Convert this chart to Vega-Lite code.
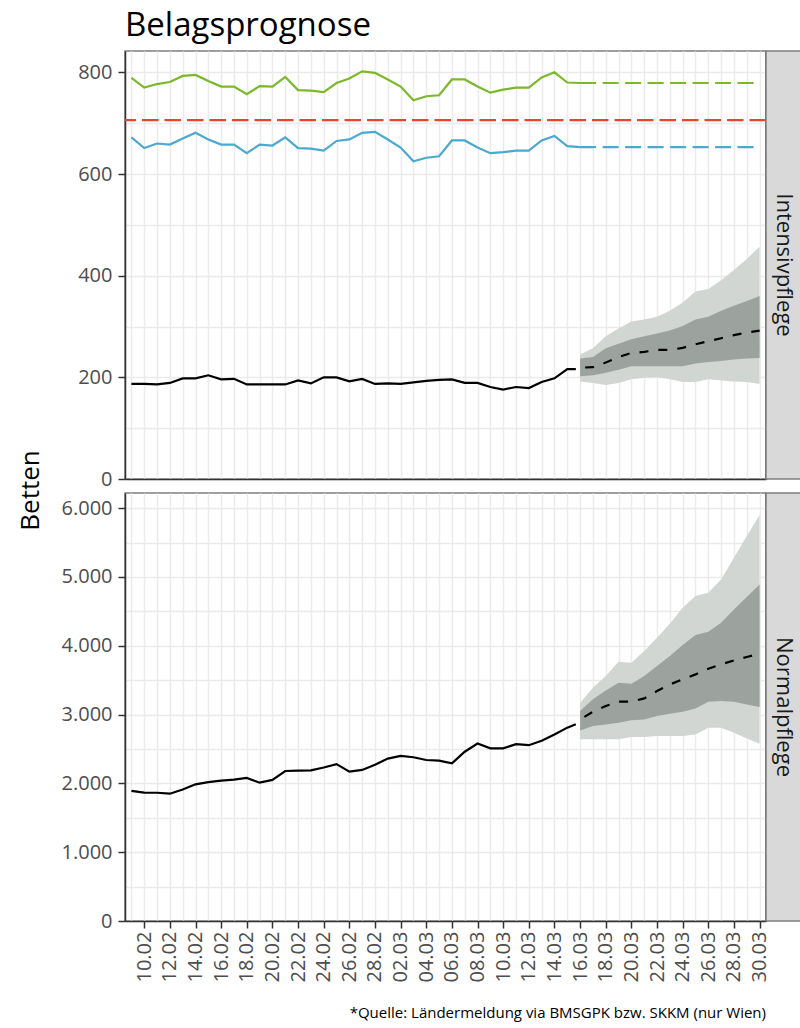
{
  "$schema": "https://vega.github.io/schema/vega-lite/v6.json",
  "background": "white",
  "padding": {"left": 16, "top": 10, "right": 0, "bottom": 4},
  "config": {
    "font": "Open Sans",
    "view": {"stroke": "#7F7F7F", "strokeWidth": 1.5},
    "axis": {
      "labelFont": "Open Sans", "labelFontSize": 20, "labelColor": "#4D4D4D",
      "tickColor": "#333333", "tickWidth": 1.5, "tickSize": 7,
      "domainColor": "#333333", "domainWidth": 1.5,
      "gridColor": "#EBEBEB", "gridWidth": 1.5,
      "titleFont": "Open Sans", "titleFontWeight": "normal", "titleColor": "#000000"
    }
  },
  "title": {"text": "Belagsprognose", "anchor": "start", "frame": "group", "fontSize": 33, "fontWeight": "normal", "color": "#000000", "offset": 7},
  "datasets": {
    "icu_hist": [
      {"date": "2021-02-09T00:00:00", "value": 187},
      {"date": "2021-02-10T00:00:00", "value": 187},
      {"date": "2021-02-11T00:00:00", "value": 186},
      {"date": "2021-02-12T00:00:00", "value": 189},
      {"date": "2021-02-13T00:00:00", "value": 198},
      {"date": "2021-02-14T00:00:00", "value": 198},
      {"date": "2021-02-15T00:00:00", "value": 204},
      {"date": "2021-02-16T00:00:00", "value": 196},
      {"date": "2021-02-17T00:00:00", "value": 197},
      {"date": "2021-02-18T00:00:00", "value": 186},
      {"date": "2021-02-19T00:00:00", "value": 186},
      {"date": "2021-02-20T00:00:00", "value": 186},
      {"date": "2021-02-21T00:00:00", "value": 186},
      {"date": "2021-02-22T00:00:00", "value": 194},
      {"date": "2021-02-23T00:00:00", "value": 188},
      {"date": "2021-02-24T00:00:00", "value": 200},
      {"date": "2021-02-25T00:00:00", "value": 200},
      {"date": "2021-02-26T00:00:00", "value": 192},
      {"date": "2021-02-27T00:00:00", "value": 197},
      {"date": "2021-02-28T00:00:00", "value": 187},
      {"date": "2021-03-01T00:00:00", "value": 188},
      {"date": "2021-03-02T00:00:00", "value": 187},
      {"date": "2021-03-03T00:00:00", "value": 190},
      {"date": "2021-03-04T00:00:00", "value": 193},
      {"date": "2021-03-05T00:00:00", "value": 195},
      {"date": "2021-03-06T00:00:00", "value": 196},
      {"date": "2021-03-07T00:00:00", "value": 189},
      {"date": "2021-03-08T00:00:00", "value": 189},
      {"date": "2021-03-09T00:00:00", "value": 181},
      {"date": "2021-03-10T00:00:00", "value": 176},
      {"date": "2021-03-11T00:00:00", "value": 181},
      {"date": "2021-03-12T00:00:00", "value": 179},
      {"date": "2021-03-13T00:00:00", "value": 191},
      {"date": "2021-03-14T00:00:00", "value": 198},
      {"date": "2021-03-15T00:00:00", "value": 216},
      {"date": "2021-03-15T16:00:00", "value": 216}
    ],
    "norm_hist": [
      {"date": "2021-02-09T00:00:00", "value": 1890},
      {"date": "2021-02-10T00:00:00", "value": 1866},
      {"date": "2021-02-11T00:00:00", "value": 1864},
      {"date": "2021-02-12T00:00:00", "value": 1850},
      {"date": "2021-02-13T00:00:00", "value": 1910},
      {"date": "2021-02-14T00:00:00", "value": 1986},
      {"date": "2021-02-15T00:00:00", "value": 2018},
      {"date": "2021-02-16T00:00:00", "value": 2040},
      {"date": "2021-02-17T00:00:00", "value": 2055},
      {"date": "2021-02-18T00:00:00", "value": 2080},
      {"date": "2021-02-19T00:00:00", "value": 2010},
      {"date": "2021-02-20T00:00:00", "value": 2050},
      {"date": "2021-02-21T00:00:00", "value": 2180},
      {"date": "2021-02-22T00:00:00", "value": 2185},
      {"date": "2021-02-23T00:00:00", "value": 2190},
      {"date": "2021-02-24T00:00:00", "value": 2230},
      {"date": "2021-02-25T00:00:00", "value": 2280},
      {"date": "2021-02-26T00:00:00", "value": 2170},
      {"date": "2021-02-27T00:00:00", "value": 2195},
      {"date": "2021-02-28T00:00:00", "value": 2270},
      {"date": "2021-03-01T00:00:00", "value": 2360},
      {"date": "2021-03-02T00:00:00", "value": 2400},
      {"date": "2021-03-03T00:00:00", "value": 2380},
      {"date": "2021-03-04T00:00:00", "value": 2340},
      {"date": "2021-03-05T00:00:00", "value": 2330},
      {"date": "2021-03-06T00:00:00", "value": 2290},
      {"date": "2021-03-07T00:00:00", "value": 2460},
      {"date": "2021-03-08T00:00:00", "value": 2580},
      {"date": "2021-03-09T00:00:00", "value": 2510},
      {"date": "2021-03-10T00:00:00", "value": 2510},
      {"date": "2021-03-11T00:00:00", "value": 2570},
      {"date": "2021-03-12T00:00:00", "value": 2555},
      {"date": "2021-03-13T00:00:00", "value": 2620},
      {"date": "2021-03-14T00:00:00", "value": 2710},
      {"date": "2021-03-15T00:00:00", "value": 2810},
      {"date": "2021-03-15T16:00:00", "value": 2858}
    ],
    "cap": [
      {"date": "2021-02-09T00:00:00", "series": "gesamt", "phase": "Ist", "value": 789},
      {"date": "2021-02-10T00:00:00", "series": "gesamt", "phase": "Ist", "value": 770},
      {"date": "2021-02-11T00:00:00", "series": "gesamt", "phase": "Ist", "value": 777},
      {"date": "2021-02-12T00:00:00", "series": "gesamt", "phase": "Ist", "value": 781},
      {"date": "2021-02-13T00:00:00", "series": "gesamt", "phase": "Ist", "value": 793},
      {"date": "2021-02-14T00:00:00", "series": "gesamt", "phase": "Ist", "value": 795},
      {"date": "2021-02-15T00:00:00", "series": "gesamt", "phase": "Ist", "value": 783},
      {"date": "2021-02-16T00:00:00", "series": "gesamt", "phase": "Ist", "value": 772},
      {"date": "2021-02-17T00:00:00", "series": "gesamt", "phase": "Ist", "value": 772},
      {"date": "2021-02-18T00:00:00", "series": "gesamt", "phase": "Ist", "value": 757},
      {"date": "2021-02-19T00:00:00", "series": "gesamt", "phase": "Ist", "value": 773},
      {"date": "2021-02-20T00:00:00", "series": "gesamt", "phase": "Ist", "value": 772},
      {"date": "2021-02-21T00:00:00", "series": "gesamt", "phase": "Ist", "value": 791},
      {"date": "2021-02-22T00:00:00", "series": "gesamt", "phase": "Ist", "value": 765},
      {"date": "2021-02-23T00:00:00", "series": "gesamt", "phase": "Ist", "value": 764},
      {"date": "2021-02-24T00:00:00", "series": "gesamt", "phase": "Ist", "value": 761},
      {"date": "2021-02-25T00:00:00", "series": "gesamt", "phase": "Ist", "value": 779},
      {"date": "2021-02-26T00:00:00", "series": "gesamt", "phase": "Ist", "value": 788},
      {"date": "2021-02-27T00:00:00", "series": "gesamt", "phase": "Ist", "value": 802},
      {"date": "2021-02-28T00:00:00", "series": "gesamt", "phase": "Ist", "value": 799},
      {"date": "2021-03-01T00:00:00", "series": "gesamt", "phase": "Ist", "value": 786},
      {"date": "2021-03-02T00:00:00", "series": "gesamt", "phase": "Ist", "value": 772},
      {"date": "2021-03-03T00:00:00", "series": "gesamt", "phase": "Ist", "value": 745},
      {"date": "2021-03-04T00:00:00", "series": "gesamt", "phase": "Ist", "value": 753},
      {"date": "2021-03-05T00:00:00", "series": "gesamt", "phase": "Ist", "value": 755},
      {"date": "2021-03-06T00:00:00", "series": "gesamt", "phase": "Ist", "value": 786},
      {"date": "2021-03-07T00:00:00", "series": "gesamt", "phase": "Ist", "value": 786},
      {"date": "2021-03-08T00:00:00", "series": "gesamt", "phase": "Ist", "value": 772},
      {"date": "2021-03-09T00:00:00", "series": "gesamt", "phase": "Ist", "value": 760},
      {"date": "2021-03-10T00:00:00", "series": "gesamt", "phase": "Ist", "value": 766},
      {"date": "2021-03-11T00:00:00", "series": "gesamt", "phase": "Ist", "value": 770},
      {"date": "2021-03-12T00:00:00", "series": "gesamt", "phase": "Ist", "value": 770},
      {"date": "2021-03-13T00:00:00", "series": "gesamt", "phase": "Ist", "value": 790},
      {"date": "2021-03-14T00:00:00", "series": "gesamt", "phase": "Ist", "value": 800},
      {"date": "2021-03-15T00:00:00", "series": "gesamt", "phase": "Ist", "value": 780},
      {"date": "2021-03-16T00:00:00", "series": "gesamt", "phase": "Ist", "value": 779},
      {"date": "2021-03-16T00:00:00", "series": "gesamt", "phase": "Prog", "value": 779},
      {"date": "2021-03-30T00:00:00", "series": "gesamt", "phase": "Prog", "value": 779},
      {"date": "2021-02-09T00:00:00", "series": "covid", "phase": "Ist", "value": 672},
      {"date": "2021-02-10T00:00:00", "series": "covid", "phase": "Ist", "value": 651},
      {"date": "2021-02-11T00:00:00", "series": "covid", "phase": "Ist", "value": 660},
      {"date": "2021-02-12T00:00:00", "series": "covid", "phase": "Ist", "value": 658},
      {"date": "2021-02-13T00:00:00", "series": "covid", "phase": "Ist", "value": 670},
      {"date": "2021-02-14T00:00:00", "series": "covid", "phase": "Ist", "value": 681},
      {"date": "2021-02-15T00:00:00", "series": "covid", "phase": "Ist", "value": 668},
      {"date": "2021-02-16T00:00:00", "series": "covid", "phase": "Ist", "value": 658},
      {"date": "2021-02-17T00:00:00", "series": "covid", "phase": "Ist", "value": 658},
      {"date": "2021-02-18T00:00:00", "series": "covid", "phase": "Ist", "value": 641},
      {"date": "2021-02-19T00:00:00", "series": "covid", "phase": "Ist", "value": 658},
      {"date": "2021-02-20T00:00:00", "series": "covid", "phase": "Ist", "value": 656},
      {"date": "2021-02-21T00:00:00", "series": "covid", "phase": "Ist", "value": 672},
      {"date": "2021-02-22T00:00:00", "series": "covid", "phase": "Ist", "value": 651},
      {"date": "2021-02-23T00:00:00", "series": "covid", "phase": "Ist", "value": 650},
      {"date": "2021-02-24T00:00:00", "series": "covid", "phase": "Ist", "value": 646},
      {"date": "2021-02-25T00:00:00", "series": "covid", "phase": "Ist", "value": 665},
      {"date": "2021-02-26T00:00:00", "series": "covid", "phase": "Ist", "value": 668},
      {"date": "2021-02-27T00:00:00", "series": "covid", "phase": "Ist", "value": 681},
      {"date": "2021-02-28T00:00:00", "series": "covid", "phase": "Ist", "value": 683},
      {"date": "2021-03-01T00:00:00", "series": "covid", "phase": "Ist", "value": 668},
      {"date": "2021-03-02T00:00:00", "series": "covid", "phase": "Ist", "value": 652},
      {"date": "2021-03-03T00:00:00", "series": "covid", "phase": "Ist", "value": 625},
      {"date": "2021-03-04T00:00:00", "series": "covid", "phase": "Ist", "value": 632},
      {"date": "2021-03-05T00:00:00", "series": "covid", "phase": "Ist", "value": 635},
      {"date": "2021-03-06T00:00:00", "series": "covid", "phase": "Ist", "value": 666},
      {"date": "2021-03-07T00:00:00", "series": "covid", "phase": "Ist", "value": 666},
      {"date": "2021-03-08T00:00:00", "series": "covid", "phase": "Ist", "value": 652},
      {"date": "2021-03-09T00:00:00", "series": "covid", "phase": "Ist", "value": 641},
      {"date": "2021-03-10T00:00:00", "series": "covid", "phase": "Ist", "value": 643},
      {"date": "2021-03-11T00:00:00", "series": "covid", "phase": "Ist", "value": 646},
      {"date": "2021-03-12T00:00:00", "series": "covid", "phase": "Ist", "value": 646},
      {"date": "2021-03-13T00:00:00", "series": "covid", "phase": "Ist", "value": 666},
      {"date": "2021-03-14T00:00:00", "series": "covid", "phase": "Ist", "value": 675},
      {"date": "2021-03-15T00:00:00", "series": "covid", "phase": "Ist", "value": 655},
      {"date": "2021-03-16T00:00:00", "series": "covid", "phase": "Ist", "value": 653},
      {"date": "2021-03-16T00:00:00", "series": "covid", "phase": "Prog", "value": 653},
      {"date": "2021-03-30T00:00:00", "series": "covid", "phase": "Prog", "value": 653}
    ],
    "icu_ref": [{"value": 706}],
    "icu_fc": [
      {"date": "2021-03-16T00:00:00", "lo95": 192, "lo50": 202, "med": 219, "hi50": 237, "hi95": 245},
      {"date": "2021-03-17T00:00:00", "lo95": 189, "lo50": 204, "med": 220, "hi50": 240, "hi95": 257},
      {"date": "2021-03-18T00:00:00", "lo95": 185, "lo50": 209, "med": 229, "hi50": 257, "hi95": 281},
      {"date": "2021-03-19T00:00:00", "lo95": 189, "lo50": 215, "med": 240, "hi50": 266, "hi95": 296},
      {"date": "2021-03-20T00:00:00", "lo95": 196, "lo50": 222, "med": 248, "hi50": 275, "hi95": 310},
      {"date": "2021-03-21T00:00:00", "lo95": 199, "lo50": 222, "med": 250, "hi50": 281, "hi95": 314},
      {"date": "2021-03-22T00:00:00", "lo95": 200, "lo50": 222, "med": 254, "hi50": 286, "hi95": 319},
      {"date": "2021-03-23T00:00:00", "lo95": 196, "lo50": 222, "med": 254, "hi50": 292, "hi95": 331},
      {"date": "2021-03-24T00:00:00", "lo95": 191, "lo50": 222, "med": 258, "hi50": 301, "hi95": 347},
      {"date": "2021-03-25T00:00:00", "lo95": 191, "lo50": 227, "med": 265, "hi50": 314, "hi95": 369},
      {"date": "2021-03-26T00:00:00", "lo95": 196, "lo50": 230, "med": 271, "hi50": 319, "hi95": 374},
      {"date": "2021-03-27T00:00:00", "lo95": 194, "lo50": 232, "med": 277, "hi50": 331, "hi95": 391},
      {"date": "2021-03-28T00:00:00", "lo95": 192, "lo50": 235, "med": 283, "hi50": 341, "hi95": 411},
      {"date": "2021-03-29T00:00:00", "lo95": 191, "lo50": 237, "med": 288, "hi50": 350, "hi95": 433},
      {"date": "2021-03-30T00:00:00", "lo95": 187, "lo50": 238, "med": 292, "hi50": 360, "hi95": 457}
    ],
    "norm_fc": [
      {"date": "2021-03-16T00:00:00", "lo95": 2640, "lo50": 2770, "med": 2930, "hi50": 3051, "hi95": 3172},
      {"date": "2021-03-17T00:00:00", "lo95": 2640, "lo50": 2833, "med": 3041, "hi50": 3221, "hi95": 3390},
      {"date": "2021-03-18T00:00:00", "lo95": 2640, "lo50": 2857, "med": 3124, "hi50": 3351, "hi95": 3559},
      {"date": "2021-03-19T00:00:00", "lo95": 2640, "lo50": 2881, "med": 3187, "hi50": 3462, "hi95": 3768},
      {"date": "2021-03-20T00:00:00", "lo95": 2673, "lo50": 2916, "med": 3187, "hi50": 3448, "hi95": 3753},
      {"date": "2021-03-21T00:00:00", "lo95": 2673, "lo50": 2930, "med": 3235, "hi50": 3559, "hi95": 3923},
      {"date": "2021-03-22T00:00:00", "lo95": 2688, "lo50": 2978, "med": 3342, "hi50": 3705, "hi95": 4117},
      {"date": "2021-03-23T00:00:00", "lo95": 2688, "lo50": 3012, "med": 3438, "hi50": 3850, "hi95": 4320},
      {"date": "2021-03-24T00:00:00", "lo95": 2688, "lo50": 3041, "med": 3511, "hi50": 4010, "hi95": 4552},
      {"date": "2021-03-25T00:00:00", "lo95": 2712, "lo50": 3090, "med": 3584, "hi50": 4155, "hi95": 4722},
      {"date": "2021-03-26T00:00:00", "lo95": 2809, "lo50": 3187, "med": 3666, "hi50": 4203, "hi95": 4770},
      {"date": "2021-03-27T00:00:00", "lo95": 2809, "lo50": 3196, "med": 3729, "hi50": 4334, "hi95": 4964},
      {"date": "2021-03-28T00:00:00", "lo95": 2736, "lo50": 3187, "med": 3787, "hi50": 4528, "hi95": 5279},
      {"date": "2021-03-29T00:00:00", "lo95": 2654, "lo50": 3148, "med": 3836, "hi50": 4707, "hi95": 5594},
      {"date": "2021-03-30T00:00:00", "lo95": 2576, "lo50": 3109, "med": 3884, "hi50": 4891, "hi95": 5899}
    ]
  },
  "bounds": "flush",
  "columns": 2,
  "spacing": {"row": 14, "column": 0},
  "concat": [
    {
      "width": 641,
      "height": 428,
      "resolve": {"axis": {"y": "independent"}},
      "layer": [
        {
          "data": {"name": "icu_fc"},
          "mark": {"type": "area", "color": "#D1D6D3", "opacity": 1},
          "encoding": {
            "x": {
              "field": "date", "type": "temporal",
              "scale": {"domain": [{"year": 2021, "month": 2, "date": 8, "hours": 12}, {"year": 2021, "month": 3, "date": 30, "hours": 12}]},
              "axis": {"title": null, "tickCount": {"interval": "day", "step": 1}, "labels": false, "ticks": false, "grid": true, "domain": true}
            },
            "y": {
              "field": "lo95", "type": "quantitative",
              "scale": {"domain": [0, 842], "nice": false, "zero": false},
              "axis": {
                "title": "Betten", "titleFontSize": 26, "titleX": -82, "titleY": 439,
                "values": [0, 100, 200, 300, 400, 500, 600, 700, 800],
                "labelExpr": "datum.value % 200 === 0 ? datum.label : ''",
                "tickOpacity": {"condition": {"test": "datum.value % 200 === 0", "value": 1}, "value": 0},
                "labelPadding": 6, "grid": true
              }
            },
            "y2": {"field": "hi95"}
          }
        },
        {
          "data": {"name": "icu_fc"},
          "mark": {"type": "area", "color": "#9CA39E", "opacity": 1},
          "encoding": {
            "x": {"field": "date", "type": "temporal"},
            "y": {"field": "lo50", "type": "quantitative", "axis": null},
            "y2": {"field": "hi50"}
          }
        },
        {
          "data": {"name": "cap"},
          "transform": [{"filter": "datum.phase === 'Ist'"}],
          "mark": {"type": "line", "strokeWidth": 2.2},
          "encoding": {
            "x": {"field": "date", "type": "temporal"},
            "y": {"field": "value", "type": "quantitative", "axis": null},
            "color": {"field": "series", "type": "nominal", "scale": {"domain": ["gesamt", "covid"], "range": ["#7AB929", "#4BA9D0"]}, "legend": null}
          }
        },
        {
          "data": {"name": "cap"},
          "transform": [{"filter": "datum.phase === 'Prog'"}],
          "mark": {"type": "line", "strokeWidth": 2.2, "strokeDash": [16, 6.5]},
          "encoding": {
            "x": {"field": "date", "type": "temporal"},
            "y": {"field": "value", "type": "quantitative", "axis": null},
            "color": {"field": "series", "type": "nominal", "legend": null}
          }
        },
        {
          "data": {"name": "icu_ref"},
          "mark": {"type": "rule", "color": "#E8452C", "strokeWidth": 2.2, "strokeDash": [16.5, 6]},
          "encoding": {
            "y": {"field": "value", "type": "quantitative", "axis": {"orient": "right", "title": null, "labels": false, "ticks": false, "grid": false, "domain": true, "domainWidth": 2, "domainColor": "#333333"}}
          }
        },
        {
          "data": {"name": "icu_hist"},
          "mark": {"type": "line", "color": "#000000", "strokeWidth": 2.2},
          "encoding": {
            "x": {"field": "date", "type": "temporal"},
            "y": {"field": "value", "type": "quantitative", "axis": null}
          }
        },
        {
          "data": {"name": "icu_fc"},
          "mark": {"type": "line", "color": "#000000", "strokeWidth": 2.2, "strokeDash": [9, 10], "strokeDashOffset": 14},
          "encoding": {
            "x": {"field": "date", "type": "temporal"},
            "y": {"field": "med", "type": "quantitative", "axis": null}
          }
        }
      ]
    },
    {
      "width": 35,
      "height": 428,
      "view": {"fill": "#D9D9D9", "stroke": "#7F7F7F", "strokeWidth": 1.5},
      "data": {"values": [{"label": "Intensivpflege"}]},
      "mark": {"type": "text", "angle": 90, "fontSize": 22, "color": "#1A1A1A"},
      "encoding": {"text": {"field": "label", "type": "nominal"}}
    },
    {
      "width": 641,
      "height": 428,
      "title": {"text": "*Quelle: Ländermeldung via BMSGPK bzw. SKKM (nur Wien)", "orient": "bottom", "anchor": "end", "frame": "group", "fontSize": 15, "fontWeight": "normal", "color": "#000000", "offset": 24},
      "resolve": {"axis": {"y": "independent"}},
      "layer": [
        {
          "data": {"name": "norm_fc"},
          "mark": {"type": "area", "color": "#D1D6D3", "opacity": 1},
          "encoding": {
            "x": {
              "field": "date", "type": "temporal",
              "scale": {"domain": [{"year": 2021, "month": 2, "date": 8, "hours": 12}, {"year": 2021, "month": 3, "date": 30, "hours": 12}]},
              "axis": {
                "title": null,
                "tickCount": {"interval": "day", "step": 1},
                "labelExpr": "date(datum.value) % 2 === 0 ? timeFormat(datum.value, '%d.%m') : ''",
                "labelAngle": -90, "labelOverlap": false, "labelFlush": false, "labelBound": false,
                "labelPadding": 3,
                "tickOpacity": {"condition": {"test": "date(datum.value) % 2 === 0", "value": 1}, "value": 0},
                "grid": true
              }
            },
            "y": {
              "field": "lo95", "type": "quantitative",
              "scale": {"domain": [0, 6220], "nice": false, "zero": false},
              "axis": {
                "title": null,
                "values": [0, 500, 1000, 1500, 2000, 2500, 3000, 3500, 4000, 4500, 5000, 5500, 6000],
                "labelExpr": "datum.value % 1000 === 0 ? replace(format(datum.value, ','), ',', '.') : ''",
                "tickOpacity": {"condition": {"test": "datum.value % 1000 === 0", "value": 1}, "value": 0},
                "labelPadding": 6, "grid": true
              }
            },
            "y2": {"field": "hi95"}
          }
        },
        {
          "data": {"name": "norm_fc"},
          "mark": {"type": "area", "color": "#9CA39E", "opacity": 1},
          "encoding": {
            "x": {"field": "date", "type": "temporal"},
            "y": {"field": "lo50", "type": "quantitative", "axis": {"orient": "right", "title": null, "labels": false, "ticks": false, "grid": false, "domain": true, "domainWidth": 2, "domainColor": "#333333"}},
            "y2": {"field": "hi50"}
          }
        },
        {
          "data": {"name": "norm_hist"},
          "mark": {"type": "line", "color": "#000000", "strokeWidth": 2.2},
          "encoding": {
            "x": {"field": "date", "type": "temporal"},
            "y": {"field": "value", "type": "quantitative", "axis": null}
          }
        },
        {
          "data": {"name": "norm_fc"},
          "mark": {"type": "line", "color": "#000000", "strokeWidth": 2.2, "strokeDash": [9, 10], "strokeDashOffset": 14},
          "encoding": {
            "x": {"field": "date", "type": "temporal"},
            "y": {"field": "med", "type": "quantitative", "axis": null}
          }
        }
      ]
    },
    {
      "width": 35,
      "height": 428,
      "view": {"fill": "#D9D9D9", "stroke": "#7F7F7F", "strokeWidth": 1.5},
      "data": {"values": [{"label": "Normalpflege"}]},
      "mark": {"type": "text", "angle": 90, "fontSize": 22, "color": "#1A1A1A"},
      "encoding": {"text": {"field": "label", "type": "nominal"}}
    }
  ]
}
